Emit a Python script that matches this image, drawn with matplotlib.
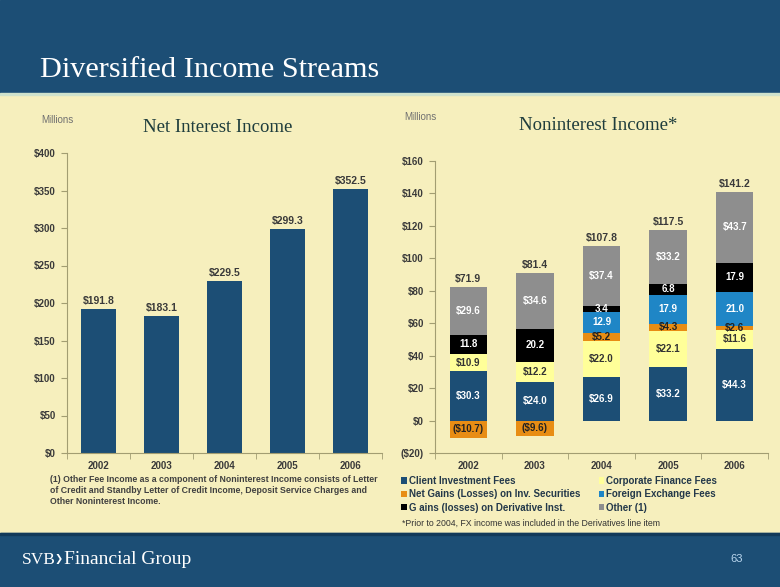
import numpy as np
import matplotlib
matplotlib.use('Agg')
import matplotlib.pyplot as plt
from matplotlib.patches import Rectangle, Patch


# ----------------------------------------------------------------------------------------------------
# データ
# ----------------------------------------------------------------------------------------------------
years = ['2002', '2003', '2004', '2005', '2006']

net_interest = [191.8, 183.1, 229.5, 299.3, 352.5]

client_fees = [30.3, 24.0, 26.9, 33.2, 44.3]
corp_fees = [10.9, 12.2, 22.0, 22.1, 11.6]
net_gains = [-10.7, -9.6, 5.2, 4.3, 2.6]
fx_fees = [0.0, 0.0, 12.9, 17.9, 21.0]
deriv_gains = [11.8, 20.2, 3.4, 6.8, 17.9]
other_fees = [29.6, 34.6, 37.4, 33.2, 43.7]
nonint_total = [71.9, 81.4, 107.8, 117.5, 141.2]

series_names = ['Client Investment Fees', 'Corporate Finance Fees',
				'Net Gains (Losses) on Inv. Securities', 'Foreign Exchange Fees',
				'G ains (losses) on Derivative Inst.', 'Other (1)']

# ----------------------------------------------------------------------------------------------------
# 色・レイアウト
# ----------------------------------------------------------------------------------------------------
W, H = 780, 587
NAVY = '#1c4e75'
CREAM = '#f6efbd'
AXCOL = '#a29d72'
TXT = '#3a3a3a'

seg_colors = ['#1c4e75', '#ffff99', '#e88d14', '#1f86c6', '#000000', '#8e8e8e']
seg_txt = ['white', '#333333', '#222222', 'white', 'white', 'white']
seg_dollar = [True, True, True, False, False, True]

plt.rcParams['font.family'] = ['Liberation Sans', 'DejaVu Sans']

fig = plt.figure(figsize=(W / 100, H / 100), dpi=100)
fig.patch.set_facecolor(CREAM)


def fx(px):
	return px / W


def fy(py):
	return 1 - py / H


def money(v, dollar=True):
	s = '${:.1f}'.format(abs(v)) if dollar else '{:.1f}'.format(abs(v))
	return '({})'.format(s) if v < 0 else s


def money_tick(v, pos):
	return '(${:.0f})'.format(-v) if v < 0 else '${:.0f}'.format(v)


# ヘッダ・フッタ
fig.add_artist(Rectangle((0, fy(93)), 1, 93 / H, transform=fig.transFigure, color=NAVY, zorder=0))
fig.add_artist(Rectangle((0, fy(95)), 1, 2 / H, transform=fig.transFigure, color='#cfe2cc', zorder=0))
fig.add_artist(Rectangle((0, 0), 1, (H - 533) / H, transform=fig.transFigure, color=NAVY, zorder=0))
fig.add_artist(Rectangle((0, fy(535)), 1, 2 / H, transform=fig.transFigure, color='#123a5a', zorder=0))

fig.text(fx(40), fy(77), 'Diversified Income Streams', family='Liberation Serif',
		 fontsize=21.8, color='white', va='baseline')
fig.text(fx(22), fy(560), 'SVB', family='Liberation Serif', fontsize=12.5, color='white',
		 va='center')
fig.text(fx(55), fy(559), '\u276f', family=['DejaVu Sans'], fontsize=7, color='white',
		 va='center')
fig.text(fx(64), fy(560), 'Financial Group', family='Liberation Serif',
		 fontsize=14, color='white', va='center')
fig.text(fx(737), fy(559), '63', fontsize=8, color='#b9d6ee', va='center', ha='center')


def style_axis(ax, ymin, ymax, ystep):
	ax.set_facecolor(CREAM)
	for s in ['top', 'right']:
		ax.spines[s].set_visible(False)
	for s in ['left', 'bottom']:
		ax.spines[s].set_color(AXCOL)
	ax.set_xlim(-0.5, 4.5)
	ax.set_ylim(ymin, ymax)
	ax.set_yticks(np.arange(ymin, ymax + 1, ystep))
	ax.yaxis.set_major_formatter(plt.FuncFormatter(money_tick))
	ax.set_xticks(range(len(years)))
	ax.set_xticklabels(years)
	ax.set_xticks(np.arange(-0.5, 5, 1), minor=True)
	ax.tick_params(axis='x', which='major', length=0, pad=6)
	ax.tick_params(axis='x', which='minor', length=4, color=AXCOL)
	ax.tick_params(axis='y', length=4, color=AXCOL, pad=4)
	for lbl in ax.get_xticklabels() + ax.get_yticklabels():
		lbl.set_fontsize(7)
		lbl.set_fontweight('bold')
		lbl.set_color(TXT)


# ----------------------------------------------------------------------------------------------------
# Net Interest Income
# ----------------------------------------------------------------------------------------------------
ax1 = fig.add_axes([fx(67), fy(453), fx(315), 300 / H])
x = np.arange(len(years))
ax1.bar(x, net_interest, width=0.54, color=NAVY, zorder=2)
for xi, v in zip(x, net_interest):
	ax1.annotate('${:.1f}'.format(v), (xi, v), xytext=(0, 2), textcoords='offset points',
				 ha='center', va='bottom', fontsize=7.5, fontweight='bold', color=TXT)
style_axis(ax1, 0, 400, 50)

fig.text(fx(41), fy(120), 'Millions', fontsize=7, color='#707070', va='center')
fig.text(fx(218), fy(128), 'Net Interest Income', family='Liberation Serif', fontsize=13.5,
		 color='#1f3d3d', ha='center', va='center')

fig.text(fx(50), fy(475),
		 '(1) Other Fee Income as a component of Noninterest Income consists of Letter\n'
		 'of Credit and Standby Letter of Credit Income, Deposit Service Charges and\n'
		 'Other Noninterest Income.',
		 fontsize=6.3, fontweight='bold', color='#404040', va='top', linespacing=1.3)

# ----------------------------------------------------------------------------------------------------
# Noninterest Income (積み上げ)
# ----------------------------------------------------------------------------------------------------
ax2 = fig.add_axes([fx(435), fy(453), fx(333), 292 / H])
series = [client_fees, corp_fees, net_gains, fx_fees, deriv_gains, other_fees]
pos_base = np.zeros(len(years))
neg_base = np.zeros(len(years))
handles = []
for k, vals in enumerate(series):
	vals = np.array(vals)
	bottoms = np.where(vals >= 0, pos_base, neg_base)
	ax2.bar(x, vals, width=0.56, bottom=bottoms, color=seg_colors[k], zorder=2)
	for xi, v, b in zip(x, vals, bottoms):
		if v == 0:
			continue
		ax2.text(xi, b + v / 2, money(v, seg_dollar[k]), ha='center', va='center',
				 fontsize=7, fontweight='bold', color=seg_txt[k], zorder=3)
	pos_base = pos_base + np.where(vals >= 0, vals, 0)
	neg_base = neg_base + np.where(vals < 0, vals, 0)
	handles.append(Patch(facecolor=seg_colors[k], label=series_names[k]))

for xi, top, tot in zip(x, pos_base, nonint_total):
	ax2.annotate('${:.1f}'.format(tot), (xi, top), xytext=(0, 2), textcoords='offset points',
				 ha='center', va='bottom', fontsize=7.5, fontweight='bold', color=TXT)
style_axis(ax2, -20, 160, 20)

fig.text(fx(404), fy(117), 'Millions', fontsize=7, color='#707070', va='center')
fig.text(fx(598), fy(126), 'Noninterest Income*', family='Liberation Serif', fontsize=13.5,
		 color='#1f3d3d', ha='center', va='center')

order = [0, 2, 4, 1, 3, 5]
leg = fig.legend([handles[i] for i in order], [series_names[i] for i in order],
				 loc='upper left', bbox_to_anchor=(fx(397), fy(472)), ncol=2,
				 frameon=False, fontsize=7, handlelength=0.6, handleheight=0.6,
				 handletextpad=0.2, columnspacing=1.9, labelspacing=0.35, borderaxespad=0)
for t in leg.get_texts():
	t.set_color('#23384a')
	t.set_fontweight('bold')

fig.text(fx(402), fy(523), '*Prior to 2004, FX income was included in the Derivatives line item',
		 fontsize=6.3, color='#333333', va='center')

plt.savefig('out.png', dpi=100, facecolor=fig.get_facecolor())
plt.close(fig)
